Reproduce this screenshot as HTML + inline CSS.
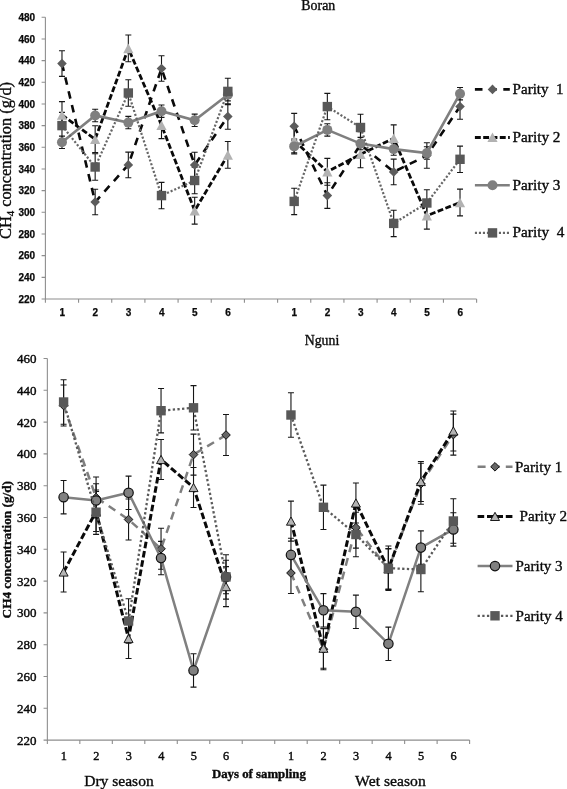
<!DOCTYPE html>
<html lang="en">
<head>
<meta charset="utf-8">
<title>CH4 concentration by parity</title>
<style>
html,body{margin:0;padding:0;background:#fff;}
body{width:567px;height:789px;overflow:hidden;}
svg{display:block;filter:blur(0.35px);}
svg text{font-family:"Liberation Serif","Times New Roman",serif;fill:#0a0a0a;stroke:#0a0a0a;stroke-width:0.35px;}
svg .tk text{stroke-width:0.4px;}
svg .ss text{font-family:"Liberation Sans",Arial,sans-serif;font-weight:bold;stroke-width:0.25px;}
</style>
</head>
<body>
<svg width="567" height="789" viewBox="0 0 567 789">
<rect width="567" height="789" fill="#fff"/>
<g stroke="#8e8e8e" stroke-width="1.1" fill="none">
<path d="M45.4 17.3V299H476.61"/>
<path d="M41.6 299H45.4M41.6 277.33H45.4M41.6 255.66H45.4M41.6 233.99H45.4M41.6 212.32H45.4M41.6 190.65H45.4M41.6 168.98H45.4M41.6 147.32H45.4M41.6 125.65H45.4M41.6 103.98H45.4M41.6 82.31H45.4M41.6 60.64H45.4M41.6 38.97H45.4M41.6 17.3H45.4M45.4 299v3.8M78.57 299v3.8M111.74 299v3.8M144.91 299v3.8M178.08 299v3.8M211.25 299v3.8M244.42 299v3.8M277.59 299v3.8M310.76 299v3.8M343.93 299v3.8M377.1 299v3.8M410.27 299v3.8M443.44 299v3.8M476.61 299v3.8"/>
</g>
<g class="ss" font-size="10" text-anchor="end">
<text x="35.2" y="302.6">220</text>
<text x="35.2" y="280.93">240</text>
<text x="35.2" y="259.26">260</text>
<text x="35.2" y="237.59">280</text>
<text x="35.2" y="215.92">300</text>
<text x="35.2" y="194.25">320</text>
<text x="35.2" y="172.58">340</text>
<text x="35.2" y="150.92">360</text>
<text x="35.2" y="129.25">380</text>
<text x="35.2" y="107.58">400</text>
<text x="35.2" y="85.91">420</text>
<text x="35.2" y="64.24">440</text>
<text x="35.2" y="42.57">460</text>
<text x="35.2" y="20.9">480</text>
</g>
<g class="ss" font-size="10" text-anchor="middle">
<text x="62.19" y="316.3">1</text>
<text x="95.36" y="316.3">2</text>
<text x="128.53" y="316.3">3</text>
<text x="161.69" y="316.3">4</text>
<text x="194.87" y="316.3">5</text>
<text x="228.03" y="316.3">6</text>
<text x="294.38" y="316.3">1</text>
<text x="327.54" y="316.3">2</text>
<text x="360.71" y="316.3">3</text>
<text x="393.88" y="316.3">4</text>
<text x="427.06" y="316.3">5</text>
<text x="460.22" y="316.3">6</text>
</g>
<text x="318.3" y="9.6" font-size="13.8" text-anchor="middle" textLength="33.9" lengthAdjust="spacingAndGlyphs">Boran</text>
<text transform="translate(10.8 239) rotate(-90)" font-size="16" textLength="157" lengthAdjust="spacingAndGlyphs">CH<tspan font-size="10.5" dy="3.6">4</tspan><tspan dy="-3.6"> concentration (g/d)</tspan></text>
<path d="M61.98 50.8V76.4M58.98 50.8h6M58.98 76.4h6" stroke="#161616" stroke-width="1.1" fill="none"/>
<path d="M95.16 189.2V214.8M92.16 189.2h6M92.16 214.8h6" stroke="#161616" stroke-width="1.1" fill="none"/>
<path d="M128.33 152.1V177.7M125.33 152.1h6M125.33 177.7h6" stroke="#161616" stroke-width="1.1" fill="none"/>
<path d="M161.5 55.7V81.3M158.5 55.7h6M158.5 81.3h6" stroke="#161616" stroke-width="1.1" fill="none"/>
<path d="M194.67 152.2V177.8M191.67 152.2h6M191.67 177.8h6" stroke="#161616" stroke-width="1.1" fill="none"/>
<path d="M227.84 103.7V129.3M224.84 103.7h6M224.84 129.3h6" stroke="#161616" stroke-width="1.1" fill="none"/>
<path d="M294.18 113.4V139M291.18 113.4h6M291.18 139h6" stroke="#161616" stroke-width="1.1" fill="none"/>
<path d="M327.34 182.8V208.4M324.34 182.8h6M324.34 208.4h6" stroke="#161616" stroke-width="1.1" fill="none"/>
<path d="M360.51 131.7V157.3M357.51 131.7h6M357.51 157.3h6" stroke="#161616" stroke-width="1.1" fill="none"/>
<path d="M393.69 159.1V184.7M390.69 159.1h6M390.69 184.7h6" stroke="#161616" stroke-width="1.1" fill="none"/>
<path d="M426.86 142.7V168.3M423.86 142.7h6M423.86 168.3h6" stroke="#161616" stroke-width="1.1" fill="none"/>
<path d="M460.02 93.7V119.3M457.02 93.7h6M457.02 119.3h6" stroke="#161616" stroke-width="1.1" fill="none"/>
<path d="M61.98 101.6V128.4M58.98 101.6h6M58.98 128.4h6" stroke="#161616" stroke-width="1.1" fill="none"/>
<path d="M95.16 125.8V152.6M92.16 125.8h6M92.16 152.6h6" stroke="#161616" stroke-width="1.1" fill="none"/>
<path d="M128.33 35V61.8M125.33 35h6M125.33 61.8h6" stroke="#161616" stroke-width="1.1" fill="none"/>
<path d="M161.5 111.8V138.6M158.5 111.8h6M158.5 138.6h6" stroke="#161616" stroke-width="1.1" fill="none"/>
<path d="M194.67 197.3V224.1M191.67 197.3h6M191.67 224.1h6" stroke="#161616" stroke-width="1.1" fill="none"/>
<path d="M227.84 141.5V168.3M224.84 141.5h6M224.84 168.3h6" stroke="#161616" stroke-width="1.1" fill="none"/>
<path d="M294.18 127.1V153.9M291.18 127.1h6M291.18 153.9h6" stroke="#161616" stroke-width="1.1" fill="none"/>
<path d="M327.34 158.4V185.2M324.34 158.4h6M324.34 185.2h6" stroke="#161616" stroke-width="1.1" fill="none"/>
<path d="M360.51 140.9V167.7M357.51 140.9h6M357.51 167.7h6" stroke="#161616" stroke-width="1.1" fill="none"/>
<path d="M393.69 124.9V151.7M390.69 124.9h6M390.69 151.7h6" stroke="#161616" stroke-width="1.1" fill="none"/>
<path d="M426.86 202.3V229.1M423.86 202.3h6M423.86 229.1h6" stroke="#161616" stroke-width="1.1" fill="none"/>
<path d="M460.02 189.1V215.9M457.02 189.1h6M457.02 215.9h6" stroke="#161616" stroke-width="1.1" fill="none"/>
<path d="M61.98 136.1V148.5M58.98 136.1h6M58.98 148.5h6" stroke="#161616" stroke-width="1.1" fill="none"/>
<path d="M95.16 109.3V121.7M92.16 109.3h6M92.16 121.7h6" stroke="#161616" stroke-width="1.1" fill="none"/>
<path d="M128.33 116.4V128.8M125.33 116.4h6M125.33 128.8h6" stroke="#161616" stroke-width="1.1" fill="none"/>
<path d="M161.5 105V117.4M158.5 105h6M158.5 117.4h6" stroke="#161616" stroke-width="1.1" fill="none"/>
<path d="M194.67 114.1V126.5M191.67 114.1h6M191.67 126.5h6" stroke="#161616" stroke-width="1.1" fill="none"/>
<path d="M227.84 88.5V100.9M224.84 88.5h6M224.84 100.9h6" stroke="#161616" stroke-width="1.1" fill="none"/>
<path d="M294.18 140.3V152.7M291.18 140.3h6M291.18 152.7h6" stroke="#161616" stroke-width="1.1" fill="none"/>
<path d="M327.34 123.7V136.1M324.34 123.7h6M324.34 136.1h6" stroke="#161616" stroke-width="1.1" fill="none"/>
<path d="M360.51 137.4V149.8M357.51 137.4h6M357.51 149.8h6" stroke="#161616" stroke-width="1.1" fill="none"/>
<path d="M393.69 142.9V155.3M390.69 142.9h6M390.69 155.3h6" stroke="#161616" stroke-width="1.1" fill="none"/>
<path d="M426.86 146.8V159.2M423.86 146.8h6M423.86 159.2h6" stroke="#161616" stroke-width="1.1" fill="none"/>
<path d="M460.02 87.5V99.9M457.02 87.5h6M457.02 99.9h6" stroke="#161616" stroke-width="1.1" fill="none"/>
<path d="M61.98 112.4V138.8M58.98 112.4h6M58.98 138.8h6" stroke="#161616" stroke-width="1.1" fill="none"/>
<path d="M95.16 153.8V180.2M92.16 153.8h6M92.16 180.2h6" stroke="#161616" stroke-width="1.1" fill="none"/>
<path d="M128.33 79.8V106.2M125.33 79.8h6M125.33 106.2h6" stroke="#161616" stroke-width="1.1" fill="none"/>
<path d="M161.5 182.4V208.8M158.5 182.4h6M158.5 208.8h6" stroke="#161616" stroke-width="1.1" fill="none"/>
<path d="M194.67 167.3V193.7M191.67 167.3h6M191.67 193.7h6" stroke="#161616" stroke-width="1.1" fill="none"/>
<path d="M227.84 78.2V104.6M224.84 78.2h6M224.84 104.6h6" stroke="#161616" stroke-width="1.1" fill="none"/>
<path d="M294.18 188.2V214.6M291.18 188.2h6M291.18 214.6h6" stroke="#161616" stroke-width="1.1" fill="none"/>
<path d="M327.34 93.4V119.8M324.34 93.4h6M324.34 119.8h6" stroke="#161616" stroke-width="1.1" fill="none"/>
<path d="M360.51 114.3V140.7M357.51 114.3h6M357.51 140.7h6" stroke="#161616" stroke-width="1.1" fill="none"/>
<path d="M393.69 210.2V236.6M390.69 210.2h6M390.69 236.6h6" stroke="#161616" stroke-width="1.1" fill="none"/>
<path d="M426.86 189.8V216.2M423.86 189.8h6M423.86 216.2h6" stroke="#161616" stroke-width="1.1" fill="none"/>
<path d="M460.02 146.1V172.5M457.02 146.1h6M457.02 172.5h6" stroke="#161616" stroke-width="1.1" fill="none"/>
<polyline fill="none" stroke="#0a0a0a" stroke-width="2.6" stroke-dasharray="7.6 6.6" points="61.98,63.6 95.16,202 128.33,164.9 161.5,68.5 194.67,165 227.84,116.5"/>
<polyline fill="none" stroke="#0a0a0a" stroke-width="2.6" stroke-dasharray="7.6 6.6" points="294.18,126.2 327.34,195.6 360.51,144.5 393.69,171.9 426.86,155.5 460.02,106.5"/>
<path d="M61.98 58.8L66.78 63.6L61.98 68.4L57.19 63.6Z" fill="#5c5c5c"/>
<path d="M95.16 197.2L99.95 202L95.16 206.8L90.36 202Z" fill="#5c5c5c"/>
<path d="M128.33 160.1L133.13 164.9L128.33 169.7L123.53 164.9Z" fill="#5c5c5c"/>
<path d="M161.5 63.7L166.3 68.5L161.5 73.3L156.69 68.5Z" fill="#5c5c5c"/>
<path d="M194.67 160.2L199.47 165L194.67 169.8L189.87 165Z" fill="#5c5c5c"/>
<path d="M227.84 111.7L232.64 116.5L227.84 121.3L223.03 116.5Z" fill="#5c5c5c"/>
<path d="M294.18 121.4L298.98 126.2L294.18 131L289.38 126.2Z" fill="#5c5c5c"/>
<path d="M327.34 190.8L332.14 195.6L327.34 200.4L322.54 195.6Z" fill="#5c5c5c"/>
<path d="M360.51 139.7L365.31 144.5L360.51 149.3L355.71 144.5Z" fill="#5c5c5c"/>
<path d="M393.69 167.1L398.49 171.9L393.69 176.7L388.88 171.9Z" fill="#5c5c5c"/>
<path d="M426.86 150.7L431.66 155.5L426.86 160.3L422.06 155.5Z" fill="#5c5c5c"/>
<path d="M460.02 101.7L464.82 106.5L460.02 111.3L455.22 106.5Z" fill="#5c5c5c"/>
<polyline fill="none" stroke="#0a0a0a" stroke-width="2.8" stroke-dasharray="5.9 2.4" points="61.98,115 95.16,139.2 128.33,48.4 161.5,125.2 194.67,210.7 227.84,154.9"/>
<polyline fill="none" stroke="#0a0a0a" stroke-width="2.8" stroke-dasharray="5.9 2.4" points="294.18,140.5 327.34,171.8 360.51,154.3 393.69,138.3 426.86,215.7 460.02,202.5"/>
<path d="M61.98 110.2L67.08 119.8L56.88 119.8Z" fill="#b2b2b2"/>
<path d="M95.16 134.4L100.25 144L90.06 144Z" fill="#b2b2b2"/>
<path d="M128.33 43.6L133.43 53.2L123.23 53.2Z" fill="#b2b2b2"/>
<path d="M161.5 120.4L166.59 130L156.4 130Z" fill="#b2b2b2"/>
<path d="M194.67 205.9L199.77 215.5L189.57 215.5Z" fill="#b2b2b2"/>
<path d="M227.84 150.1L232.94 159.7L222.74 159.7Z" fill="#b2b2b2"/>
<path d="M294.18 135.7L299.28 145.3L289.07 145.3Z" fill="#b2b2b2"/>
<path d="M327.34 167L332.44 176.6L322.24 176.6Z" fill="#b2b2b2"/>
<path d="M360.51 149.5L365.62 159.1L355.41 159.1Z" fill="#b2b2b2"/>
<path d="M393.69 133.5L398.79 143.1L388.58 143.1Z" fill="#b2b2b2"/>
<path d="M426.86 210.9L431.96 220.5L421.75 220.5Z" fill="#b2b2b2"/>
<path d="M460.02 197.7L465.12 207.3L454.92 207.3Z" fill="#b2b2b2"/>
<polyline fill="none" stroke="#7f7f7f" stroke-width="2.6" points="61.98,142.3 95.16,115.5 128.33,122.6 161.5,111.2 194.67,120.3 227.84,94.7"/>
<polyline fill="none" stroke="#7f7f7f" stroke-width="2.6" points="294.18,146.5 327.34,129.9 360.51,143.6 393.69,149.1 426.86,153 460.02,93.7"/>
<circle cx="61.98" cy="142.3" r="5" fill="#7f7f7f"/>
<circle cx="95.16" cy="115.5" r="5" fill="#7f7f7f"/>
<circle cx="128.33" cy="122.6" r="5" fill="#7f7f7f"/>
<circle cx="161.5" cy="111.2" r="5" fill="#7f7f7f"/>
<circle cx="194.67" cy="120.3" r="5" fill="#7f7f7f"/>
<circle cx="227.84" cy="94.7" r="5" fill="#7f7f7f"/>
<circle cx="294.18" cy="146.5" r="5" fill="#7f7f7f"/>
<circle cx="327.34" cy="129.9" r="5" fill="#7f7f7f"/>
<circle cx="360.51" cy="143.6" r="5" fill="#7f7f7f"/>
<circle cx="393.69" cy="149.1" r="5" fill="#7f7f7f"/>
<circle cx="426.86" cy="153" r="5" fill="#7f7f7f"/>
<circle cx="460.02" cy="93.7" r="5" fill="#7f7f7f"/>
<polyline fill="none" stroke="#666" stroke-width="2.2" stroke-dasharray="2.1 1.9" points="61.98,125.6 95.16,167 128.33,93 161.5,195.6 194.67,180.5 227.84,91.4"/>
<polyline fill="none" stroke="#666" stroke-width="2.2" stroke-dasharray="2.1 1.9" points="294.18,201.4 327.34,106.6 360.51,127.5 393.69,223.4 426.86,203 460.02,159.3"/>
<rect x="57.28" y="120.9" width="9.4" height="9.4" fill="#585858"/>
<rect x="90.45" y="162.3" width="9.4" height="9.4" fill="#585858"/>
<rect x="123.63" y="88.3" width="9.4" height="9.4" fill="#585858"/>
<rect x="156.8" y="190.9" width="9.4" height="9.4" fill="#585858"/>
<rect x="189.97" y="175.8" width="9.4" height="9.4" fill="#585858"/>
<rect x="223.14" y="86.7" width="9.4" height="9.4" fill="#585858"/>
<rect x="289.48" y="196.7" width="9.4" height="9.4" fill="#585858"/>
<rect x="322.64" y="101.9" width="9.4" height="9.4" fill="#585858"/>
<rect x="355.81" y="122.8" width="9.4" height="9.4" fill="#585858"/>
<rect x="388.99" y="218.7" width="9.4" height="9.4" fill="#585858"/>
<rect x="422.16" y="198.3" width="9.4" height="9.4" fill="#585858"/>
<rect x="455.32" y="154.6" width="9.4" height="9.4" fill="#585858"/>
<path d="M474.9 89.4H509.8" fill="none" stroke="#0a0a0a" stroke-width="2.6" stroke-dasharray="7.6 6.6"/>
<path d="M492.5 84.6L497.3 89.4L492.5 94.2L487.7 89.4Z" fill="#5c5c5c"/>
<text x="512.6" y="94.3" font-size="14.6" textLength="51" lengthAdjust="spacingAndGlyphs">Parity  1</text>
<path d="M474.9 137.5H509.8" fill="none" stroke="#0a0a0a" stroke-width="2.8" stroke-dasharray="5.9 2.4"/>
<path d="M492.5 132.4L497.6 142L487.4 142Z" fill="#b2b2b2"/>
<text x="512.6" y="142.3" font-size="14.6" textLength="47.9" lengthAdjust="spacingAndGlyphs">Parity 2</text>
<path d="M474.9 185.3H509.8" fill="none" stroke="#7f7f7f" stroke-width="2.6"/>
<circle cx="492.5" cy="185.3" r="5" fill="#7f7f7f"/>
<text x="512.6" y="189.7" font-size="14.6" textLength="47.9" lengthAdjust="spacingAndGlyphs">Parity 3</text>
<path d="M474.9 232.9H509.8" fill="none" stroke="#666" stroke-width="2.2" stroke-dasharray="2.1 1.9"/>
<rect x="487.8" y="228.2" width="9.4" height="9.4" fill="#585858"/>
<text x="512.6" y="237.3" font-size="14.6" textLength="51.8" lengthAdjust="spacingAndGlyphs">Parity  4</text>
<g stroke="#8e8e8e" stroke-width="1.1" fill="none">
<path d="M47.36 358.5V740.1H469.6"/>
<path d="M43.56 740.1H47.36M43.56 708.3H47.36M43.56 676.5H47.36M43.56 644.7H47.36M43.56 612.9H47.36M43.56 581.1H47.36M43.56 549.3H47.36M43.56 517.5H47.36M43.56 485.7H47.36M43.56 453.9H47.36M43.56 422.1H47.36M43.56 390.3H47.36M43.56 358.5H47.36M47.36 740.1v3.8M79.84 740.1v3.8M112.32 740.1v3.8M144.8 740.1v3.8M177.28 740.1v3.8M209.76 740.1v3.8M242.24 740.1v3.8M274.72 740.1v3.8M307.2 740.1v3.8M339.68 740.1v3.8M372.16 740.1v3.8M404.64 740.1v3.8M437.12 740.1v3.8M469.6 740.1v3.8"/>
</g>
<g class="tk" font-size="13" text-anchor="end">
<text x="36.5" y="744.6">220</text>
<text x="36.5" y="712.8">240</text>
<text x="36.5" y="681">260</text>
<text x="36.5" y="649.2">280</text>
<text x="36.5" y="617.4">300</text>
<text x="36.5" y="585.6">320</text>
<text x="36.5" y="553.8">340</text>
<text x="36.5" y="522">360</text>
<text x="36.5" y="490.2">380</text>
<text x="36.5" y="458.4">400</text>
<text x="36.5" y="426.6">420</text>
<text x="36.5" y="394.8">440</text>
<text x="36.5" y="363">460</text>
</g>
<g class="tk" font-size="12.3" text-anchor="middle">
<text x="63.8" y="759.8">1</text>
<text x="96.28" y="759.8">2</text>
<text x="128.76" y="759.8">3</text>
<text x="161.24" y="759.8">4</text>
<text x="193.72" y="759.8">5</text>
<text x="226.2" y="759.8">6</text>
<text x="291.16" y="759.8">1</text>
<text x="323.64" y="759.8">2</text>
<text x="356.12" y="759.8">3</text>
<text x="388.6" y="759.8">4</text>
<text x="421.08" y="759.8">5</text>
<text x="453.56" y="759.8">6</text>
</g>
<text x="322" y="344.7" font-size="13.8" text-anchor="middle" textLength="34.5" lengthAdjust="spacingAndGlyphs">Nguni</text>
<text transform="translate(11 618.4) rotate(-90)" font-size="13.2" font-weight="bold" textLength="137.4" lengthAdjust="spacingAndGlyphs">CH4 concentration (g/d)</text>
<text x="84.2" y="785.8" font-size="15.6" textLength="69.5" lengthAdjust="spacingAndGlyphs">Dry season</text>
<text x="355.1" y="786" font-size="15.6" textLength="70.7" lengthAdjust="spacingAndGlyphs">Wet season</text>
<text x="211.9" y="777.8" font-size="12" font-weight="bold" textLength="94" lengthAdjust="spacingAndGlyphs">Days of sampling</text>
<path d="M63.6 385V426M60.6 385h6M60.6 426h6" stroke="#161616" stroke-width="1.1" fill="none"/>
<path d="M96.08 477V518M93.08 477h6M93.08 518h6" stroke="#161616" stroke-width="1.1" fill="none"/>
<path d="M128.56 499V540M125.56 499h6M125.56 540h6" stroke="#161616" stroke-width="1.1" fill="none"/>
<path d="M161.04 528.3V569.3M158.04 528.3h6M158.04 569.3h6" stroke="#161616" stroke-width="1.1" fill="none"/>
<path d="M193.52 434.1V475.1M190.52 434.1h6M190.52 475.1h6" stroke="#161616" stroke-width="1.1" fill="none"/>
<path d="M226 414.5V455.5M223 414.5h6M223 455.5h6" stroke="#161616" stroke-width="1.1" fill="none"/>
<path d="M290.96 552.5V593.5M287.96 552.5h6M287.96 593.5h6" stroke="#161616" stroke-width="1.1" fill="none"/>
<path d="M323.44 628.7V669.7M320.44 628.7h6M320.44 669.7h6" stroke="#161616" stroke-width="1.1" fill="none"/>
<path d="M355.92 507.1V548.1M352.92 507.1h6M352.92 548.1h6" stroke="#161616" stroke-width="1.1" fill="none"/>
<path d="M388.4 548.5V589.5M385.4 548.5h6M385.4 589.5h6" stroke="#161616" stroke-width="1.1" fill="none"/>
<path d="M420.88 463.3V504.3M417.88 463.3h6M417.88 504.3h6" stroke="#161616" stroke-width="1.1" fill="none"/>
<path d="M453.36 414.1V455.1M450.36 414.1h6M450.36 455.1h6" stroke="#161616" stroke-width="1.1" fill="none"/>
<path d="M63.6 552V592M60.6 552h6M60.6 592h6" stroke="#161616" stroke-width="1.1" fill="none"/>
<path d="M96.08 491.5V531.5M93.08 491.5h6M93.08 531.5h6" stroke="#161616" stroke-width="1.1" fill="none"/>
<path d="M128.56 618.5V658.5M125.56 618.5h6M125.56 658.5h6" stroke="#161616" stroke-width="1.1" fill="none"/>
<path d="M161.04 439.5V479.5M158.04 439.5h6M158.04 479.5h6" stroke="#161616" stroke-width="1.1" fill="none"/>
<path d="M193.52 467.5V507.5M190.52 467.5h6M190.52 507.5h6" stroke="#161616" stroke-width="1.1" fill="none"/>
<path d="M226 566.6V606.6M223 566.6h6M223 606.6h6" stroke="#161616" stroke-width="1.1" fill="none"/>
<path d="M290.96 501.1V541.1M287.96 501.1h6M287.96 541.1h6" stroke="#161616" stroke-width="1.1" fill="none"/>
<path d="M323.44 628.2V668.2M320.44 628.2h6M320.44 668.2h6" stroke="#161616" stroke-width="1.1" fill="none"/>
<path d="M355.92 483V523M352.92 483h6M352.92 523h6" stroke="#161616" stroke-width="1.1" fill="none"/>
<path d="M388.4 549V589M385.4 549h6M385.4 589h6" stroke="#161616" stroke-width="1.1" fill="none"/>
<path d="M420.88 461.5V501.5M417.88 461.5h6M417.88 501.5h6" stroke="#161616" stroke-width="1.1" fill="none"/>
<path d="M453.36 411V451M450.36 411h6M450.36 451h6" stroke="#161616" stroke-width="1.1" fill="none"/>
<path d="M63.6 480.5V513.9M60.6 480.5h6M60.6 513.9h6" stroke="#161616" stroke-width="1.1" fill="none"/>
<path d="M96.08 483.8V517.2M93.08 483.8h6M93.08 517.2h6" stroke="#161616" stroke-width="1.1" fill="none"/>
<path d="M128.56 476.1V509.5M125.56 476.1h6M125.56 509.5h6" stroke="#161616" stroke-width="1.1" fill="none"/>
<path d="M161.04 541.4V574.8M158.04 541.4h6M158.04 574.8h6" stroke="#161616" stroke-width="1.1" fill="none"/>
<path d="M193.52 653.7V687.1M190.52 653.7h6M190.52 687.1h6" stroke="#161616" stroke-width="1.1" fill="none"/>
<path d="M226 560.3V593.7M223 560.3h6M223 593.7h6" stroke="#161616" stroke-width="1.1" fill="none"/>
<path d="M290.96 538.2V571.6M287.96 538.2h6M287.96 571.6h6" stroke="#161616" stroke-width="1.1" fill="none"/>
<path d="M323.44 593.6V627M320.44 593.6h6M320.44 627h6" stroke="#161616" stroke-width="1.1" fill="none"/>
<path d="M355.92 595.1V628.5M352.92 595.1h6M352.92 628.5h6" stroke="#161616" stroke-width="1.1" fill="none"/>
<path d="M388.4 627.1V660.5M385.4 627.1h6M385.4 660.5h6" stroke="#161616" stroke-width="1.1" fill="none"/>
<path d="M420.88 530.9V564.3M417.88 530.9h6M417.88 564.3h6" stroke="#161616" stroke-width="1.1" fill="none"/>
<path d="M453.36 512.7V546.1M450.36 512.7h6M450.36 546.1h6" stroke="#161616" stroke-width="1.1" fill="none"/>
<path d="M63.6 379.8V424.2M60.6 379.8h6M60.6 424.2h6" stroke="#161616" stroke-width="1.1" fill="none"/>
<path d="M96.08 490V534.4M93.08 490h6M93.08 534.4h6" stroke="#161616" stroke-width="1.1" fill="none"/>
<path d="M128.56 598.8V643.2M125.56 598.8h6M125.56 643.2h6" stroke="#161616" stroke-width="1.1" fill="none"/>
<path d="M161.04 388.5V432.9M158.04 388.5h6M158.04 432.9h6" stroke="#161616" stroke-width="1.1" fill="none"/>
<path d="M193.52 385.6V430M190.52 385.6h6M190.52 430h6" stroke="#161616" stroke-width="1.1" fill="none"/>
<path d="M226 554.7V599.1M223 554.7h6M223 599.1h6" stroke="#161616" stroke-width="1.1" fill="none"/>
<path d="M290.96 392.8V437.2M287.96 392.8h6M287.96 437.2h6" stroke="#161616" stroke-width="1.1" fill="none"/>
<path d="M323.44 485.1V529.5M320.44 485.1h6M320.44 529.5h6" stroke="#161616" stroke-width="1.1" fill="none"/>
<path d="M355.92 512.3V556.7M352.92 512.3h6M352.92 556.7h6" stroke="#161616" stroke-width="1.1" fill="none"/>
<path d="M388.4 546V590.4M385.4 546h6M385.4 590.4h6" stroke="#161616" stroke-width="1.1" fill="none"/>
<path d="M420.88 547.3V591.7M417.88 547.3h6M417.88 591.7h6" stroke="#161616" stroke-width="1.1" fill="none"/>
<path d="M453.36 498.8V543.2M450.36 498.8h6M450.36 543.2h6" stroke="#161616" stroke-width="1.1" fill="none"/>
<polyline fill="none" stroke="#7f7f7f" stroke-width="2.5" stroke-dasharray="8 6.1" points="63.6,405.5 96.08,497.5 128.56,519.5 161.04,548.8 193.52,454.6 226,435"/>
<polyline fill="none" stroke="#7f7f7f" stroke-width="2.5" stroke-dasharray="8 6.1" points="290.96,573 323.44,649.2 355.92,527.6 388.4,569 420.88,483.8 453.36,434.6"/>
<path d="M63.6 401.2L67.9 405.5L63.6 409.8L59.3 405.5Z" fill="#666" stroke="#111" stroke-width="1"/>
<path d="M96.08 493.2L100.38 497.5L96.08 501.8L91.78 497.5Z" fill="#666" stroke="#111" stroke-width="1"/>
<path d="M128.56 515.2L132.86 519.5L128.56 523.8L124.26 519.5Z" fill="#666" stroke="#111" stroke-width="1"/>
<path d="M161.04 544.5L165.34 548.8L161.04 553.1L156.74 548.8Z" fill="#666" stroke="#111" stroke-width="1"/>
<path d="M193.52 450.3L197.82 454.6L193.52 458.9L189.22 454.6Z" fill="#666" stroke="#111" stroke-width="1"/>
<path d="M226 430.7L230.3 435L226 439.3L221.7 435Z" fill="#666" stroke="#111" stroke-width="1"/>
<path d="M290.96 568.7L295.26 573L290.96 577.3L286.66 573Z" fill="#666" stroke="#111" stroke-width="1"/>
<path d="M323.44 644.9L327.74 649.2L323.44 653.5L319.14 649.2Z" fill="#666" stroke="#111" stroke-width="1"/>
<path d="M355.92 523.3L360.22 527.6L355.92 531.9L351.62 527.6Z" fill="#666" stroke="#111" stroke-width="1"/>
<path d="M388.4 564.7L392.7 569L388.4 573.3L384.1 569Z" fill="#666" stroke="#111" stroke-width="1"/>
<path d="M420.88 479.5L425.18 483.8L420.88 488.1L416.58 483.8Z" fill="#666" stroke="#111" stroke-width="1"/>
<path d="M453.36 430.3L457.66 434.6L453.36 438.9L449.06 434.6Z" fill="#666" stroke="#111" stroke-width="1"/>
<polyline fill="none" stroke="#0a0a0a" stroke-width="3" stroke-dasharray="6.6 2.8" points="63.6,572 96.08,511.5 128.56,638.5 161.04,459.5 193.52,487.5 226,586.6"/>
<polyline fill="none" stroke="#0a0a0a" stroke-width="3" stroke-dasharray="6.6 2.8" points="290.96,521.1 323.44,648.2 355.92,503 388.4,569 420.88,481.5 453.36,431"/>
<path d="M63.6 567.9L68.1 576.1L59.1 576.1Z" fill="#b4b4b4" stroke="#111" stroke-width="0.95" stroke-linejoin="miter"/>
<path d="M96.08 507.4L100.58 515.6L91.58 515.6Z" fill="#b4b4b4" stroke="#111" stroke-width="0.95" stroke-linejoin="miter"/>
<path d="M128.56 634.4L133.06 642.6L124.06 642.6Z" fill="#b4b4b4" stroke="#111" stroke-width="0.95" stroke-linejoin="miter"/>
<path d="M161.04 455.4L165.54 463.6L156.54 463.6Z" fill="#b4b4b4" stroke="#111" stroke-width="0.95" stroke-linejoin="miter"/>
<path d="M193.52 483.4L198.02 491.6L189.02 491.6Z" fill="#b4b4b4" stroke="#111" stroke-width="0.95" stroke-linejoin="miter"/>
<path d="M226 582.5L230.5 590.7L221.5 590.7Z" fill="#b4b4b4" stroke="#111" stroke-width="0.95" stroke-linejoin="miter"/>
<path d="M290.96 517L295.46 525.2L286.46 525.2Z" fill="#b4b4b4" stroke="#111" stroke-width="0.95" stroke-linejoin="miter"/>
<path d="M323.44 644.1L327.94 652.3L318.94 652.3Z" fill="#b4b4b4" stroke="#111" stroke-width="0.95" stroke-linejoin="miter"/>
<path d="M355.92 498.9L360.42 507.1L351.42 507.1Z" fill="#b4b4b4" stroke="#111" stroke-width="0.95" stroke-linejoin="miter"/>
<path d="M388.4 564.9L392.9 573.1L383.9 573.1Z" fill="#b4b4b4" stroke="#111" stroke-width="0.95" stroke-linejoin="miter"/>
<path d="M420.88 477.4L425.38 485.6L416.38 485.6Z" fill="#b4b4b4" stroke="#111" stroke-width="0.95" stroke-linejoin="miter"/>
<path d="M453.36 426.9L457.86 435.1L448.86 435.1Z" fill="#b4b4b4" stroke="#111" stroke-width="0.95" stroke-linejoin="miter"/>
<polyline fill="none" stroke="#808080" stroke-width="2.5" points="63.6,497.2 96.08,500.5 128.56,492.8 161.04,558.1 193.52,670.4 226,577"/>
<polyline fill="none" stroke="#808080" stroke-width="2.5" points="290.96,554.9 323.44,610.3 355.92,611.8 388.4,643.8 420.88,547.6 453.36,529.4"/>
<circle cx="63.6" cy="497.2" r="4.7" fill="#808080" stroke="#111" stroke-width="1.2"/>
<circle cx="96.08" cy="500.5" r="4.7" fill="#808080" stroke="#111" stroke-width="1.2"/>
<circle cx="128.56" cy="492.8" r="4.7" fill="#808080" stroke="#111" stroke-width="1.2"/>
<circle cx="161.04" cy="558.1" r="4.7" fill="#808080" stroke="#111" stroke-width="1.2"/>
<circle cx="193.52" cy="670.4" r="4.7" fill="#808080" stroke="#111" stroke-width="1.2"/>
<circle cx="226" cy="577" r="4.7" fill="#808080" stroke="#111" stroke-width="1.2"/>
<circle cx="290.96" cy="554.9" r="4.7" fill="#808080" stroke="#111" stroke-width="1.2"/>
<circle cx="323.44" cy="610.3" r="4.7" fill="#808080" stroke="#111" stroke-width="1.2"/>
<circle cx="355.92" cy="611.8" r="4.7" fill="#808080" stroke="#111" stroke-width="1.2"/>
<circle cx="388.4" cy="643.8" r="4.7" fill="#808080" stroke="#111" stroke-width="1.2"/>
<circle cx="420.88" cy="547.6" r="4.7" fill="#808080" stroke="#111" stroke-width="1.2"/>
<circle cx="453.36" cy="529.4" r="4.7" fill="#808080" stroke="#111" stroke-width="1.2"/>
<polyline fill="none" stroke="#5a5a5a" stroke-width="2.3" stroke-dasharray="2.3 2.37" points="63.6,402 96.08,512.2 128.56,621 161.04,410.7 193.52,407.8 226,576.9"/>
<polyline fill="none" stroke="#5a5a5a" stroke-width="2.3" stroke-dasharray="2.3 2.37" points="290.96,415 323.44,507.3 355.92,534.5 388.4,568.2 420.88,569.5 453.36,521"/>
<rect x="58.9" y="397.3" width="9.4" height="9.4" fill="#585858"/>
<rect x="91.38" y="507.5" width="9.4" height="9.4" fill="#585858"/>
<rect x="123.86" y="616.3" width="9.4" height="9.4" fill="#585858"/>
<rect x="156.34" y="406" width="9.4" height="9.4" fill="#585858"/>
<rect x="188.82" y="403.1" width="9.4" height="9.4" fill="#585858"/>
<rect x="221.3" y="572.2" width="9.4" height="9.4" fill="#585858"/>
<rect x="286.26" y="410.3" width="9.4" height="9.4" fill="#585858"/>
<rect x="318.74" y="502.6" width="9.4" height="9.4" fill="#585858"/>
<rect x="351.22" y="529.8" width="9.4" height="9.4" fill="#585858"/>
<rect x="383.7" y="563.5" width="9.4" height="9.4" fill="#585858"/>
<rect x="416.18" y="564.8" width="9.4" height="9.4" fill="#585858"/>
<rect x="448.66" y="516.3" width="9.4" height="9.4" fill="#585858"/>
<path d="M477.6 466.8H512.5" fill="none" stroke="#7f7f7f" stroke-width="2.5" stroke-dasharray="8 6.1"/>
<path d="M495 462.5L499.3 466.8L495 471.1L490.7 466.8Z" fill="#666" stroke="#111" stroke-width="1"/>
<text x="515" y="471.7" font-size="15.5" textLength="47.2" lengthAdjust="spacingAndGlyphs">Parity 1</text>
<path d="M477.6 516.4H512.5" fill="none" stroke="#0a0a0a" stroke-width="3" stroke-dasharray="6.6 2.8"/>
<path d="M495 512.3L499.5 520.5L490.5 520.5Z" fill="#b4b4b4" stroke="#111" stroke-width="0.95" stroke-linejoin="miter"/>
<text x="519.6" y="521.1" font-size="15.5" textLength="47.6" lengthAdjust="spacingAndGlyphs">Parity 2</text>
<path d="M477.6 566.1H512.5" fill="none" stroke="#808080" stroke-width="2.5"/>
<circle cx="495" cy="566.1" r="4.7" fill="#808080" stroke="#111" stroke-width="1.2"/>
<text x="515.5" y="570.9" font-size="15.5" textLength="47.1" lengthAdjust="spacingAndGlyphs">Parity 3</text>
<path d="M477.6 615.8H512.5" fill="none" stroke="#5a5a5a" stroke-width="2.3" stroke-dasharray="2.3 2.37"/>
<rect x="490.3" y="611.1" width="9.4" height="9.4" fill="#585858"/>
<text x="515.5" y="620.6" font-size="15.5" textLength="47.3" lengthAdjust="spacingAndGlyphs">Parity 4</text>
</svg>
</body>
</html>
